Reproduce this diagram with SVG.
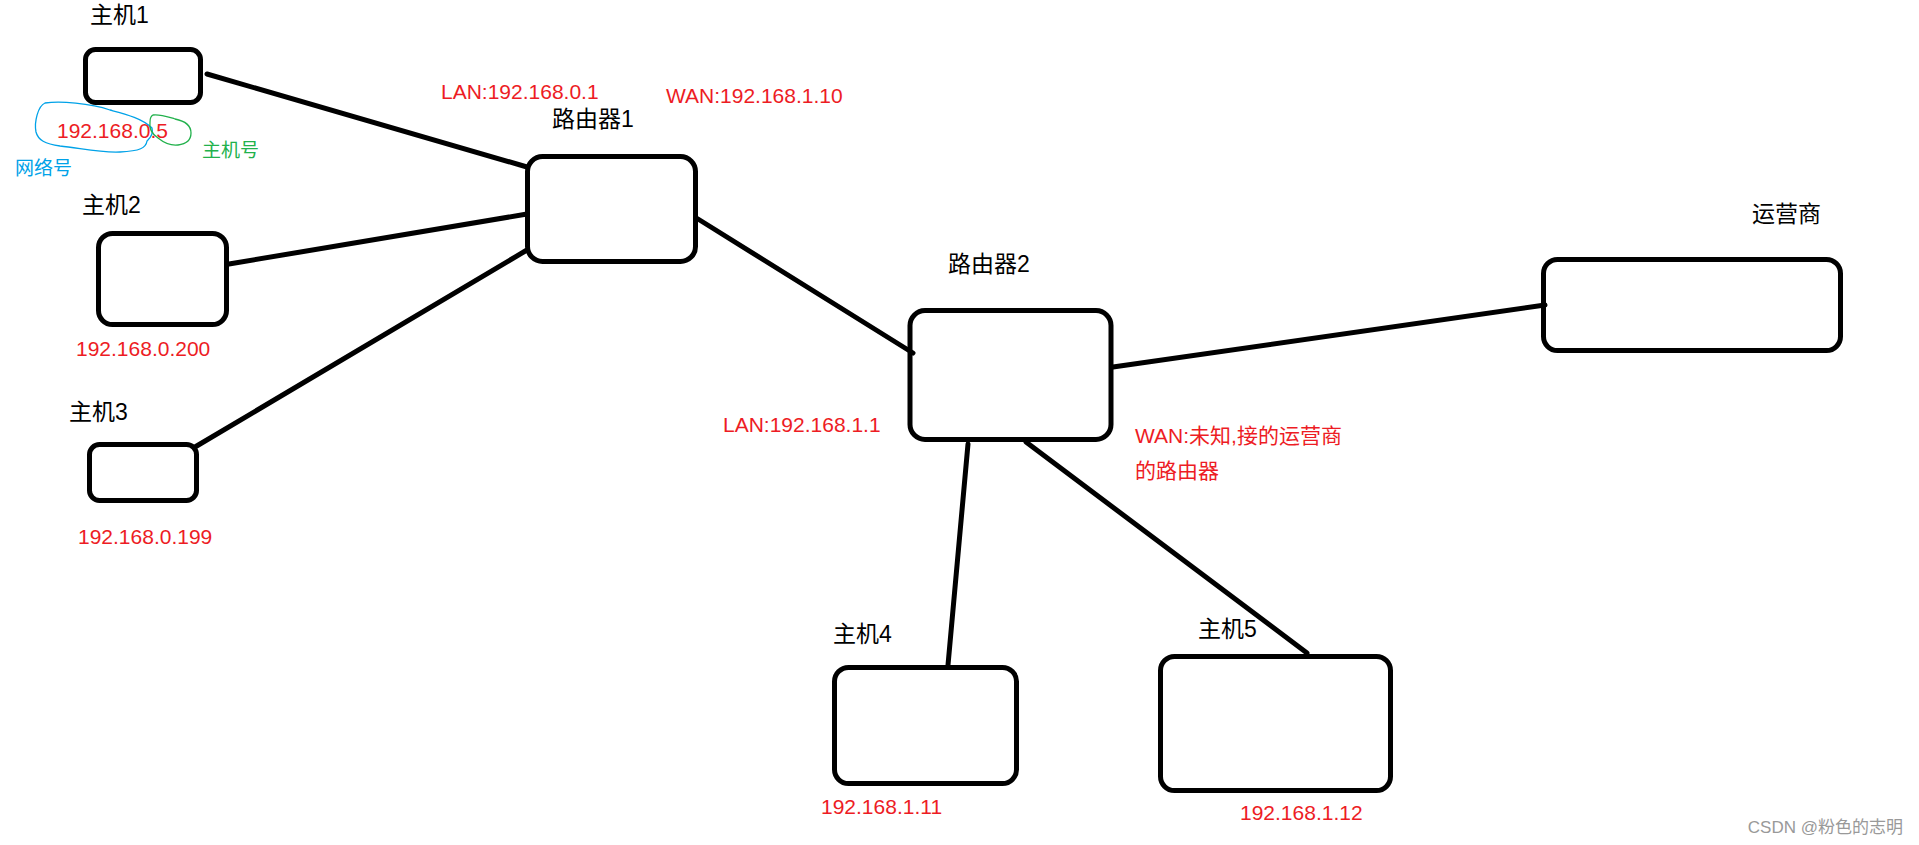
<svg xmlns="http://www.w3.org/2000/svg" width="1919" height="845" viewBox="0 0 1919 845">
<style>
.box{fill:none;stroke:#000;stroke-width:5}
.ln{stroke:#000;stroke-width:5;stroke-linecap:round;fill:none}
.lbl{font-family:"Liberation Sans","Noto Sans CJK SC",sans-serif;font-size:23px;fill:#000}
.ip{font-family:"Liberation Sans","Noto Sans CJK SC",sans-serif;font-size:21px;fill:#ed1c24}
.note{font-family:"Liberation Sans","Noto Sans CJK SC",sans-serif;font-size:19px}
</style>
<rect width="1919" height="845" fill="#fff"/>
<g id="connectors">
<line class="ln" x1="207" y1="74" x2="527" y2="167"/>
<line class="ln" x1="229" y1="264" x2="527" y2="214"/>
<line class="ln" x1="195" y1="447" x2="527" y2="250"/>
<line class="ln" x1="698" y1="219" x2="913" y2="353"/>
<line class="ln" x1="1113" y1="367" x2="1545" y2="305"/>
<line class="ln" x1="968" y1="444" x2="948" y2="665"/>
<line class="ln" x1="1026" y1="442" x2="1307" y2="653"/>
</g>
<g id="host1">
<rect class="box" x="85.5" y="49.5" width="115" height="53" rx="10"/>
<text class="lbl" x="90" y="23">主机1</text>
<text class="ip" x="57" y="138">192.168.0.5</text>
<path d="M45,103 C60,101 90,103 110,110 C125,114 142,118 152,128 C154,135 148,140 147,141 C146,148 140,151 120,152 C100,153 80,148 60,146 C45,144 38,140 36,132 C34,122 38,106 45,103 Z" fill="none" stroke="#00a2e8" stroke-width="1.3"/>
<path d="M153,115 C160,114 168,117 175,119 C185,121 191,125 191,133 C191,140 186,144 178,145 C170,146 163,142 158,138 C152,134 149,128 150,122 C150,118 151,116 153,115 Z" fill="none" stroke="#22b14c" stroke-width="1.3"/>
<text class="note" x="202" y="157" fill="#22b14c">主机号</text>
<text class="note" x="15" y="175" fill="#00a2e8">网络号</text>
</g>
<g id="host2">
<rect class="box" x="98.5" y="233.5" width="128" height="91" rx="14"/>
<text class="lbl" x="82" y="213">主机2</text>
<text class="ip" x="76" y="356">192.168.0.200</text>
</g>
<g id="host3">
<rect class="box" x="89.5" y="444.5" width="107" height="56" rx="10"/>
<text class="lbl" x="69" y="420">主机3</text>
<text class="ip" x="78" y="544">192.168.0.199</text>
</g>
<g id="router1">
<rect class="box" x="527.5" y="156.5" width="168" height="105" rx="15"/>
<text class="lbl" x="552" y="127">路由器1</text>
<text class="ip" x="441" y="99">LAN:192.168.0.1</text>
<text class="ip" x="666" y="103">WAN:192.168.1.10</text>
</g>
<g id="router2">
<rect class="box" x="910" y="310.5" width="201" height="129" rx="15"/>
<text class="lbl" x="948" y="272">路由器2</text>
<text class="ip" x="723" y="432">LAN:192.168.1.1</text>
<text class="ip" x="1135" y="443" font-size="20">WAN:未知,接的运营商</text>
<text class="ip" x="1135" y="478" font-size="20">的路由器</text>
</g>
<g id="isp">
<rect class="box" x="1543.5" y="259.5" width="297" height="91" rx="14"/>
<text class="lbl" x="1752" y="222">运营商</text>
</g>
<g id="host4">
<rect class="box" x="834.5" y="667.5" width="182" height="116" rx="14"/>
<text class="lbl" x="833" y="642">主机4</text>
<text class="ip" x="821" y="814">192.168.1.11</text>
</g>
<g id="host5">
<rect class="box" x="1160.5" y="656.5" width="230" height="134" rx="14"/>
<text class="lbl" x="1198" y="637">主机5</text>
<text class="ip" x="1240" y="820">192.168.1.12</text>
</g>
<text x="1903" y="833" text-anchor="end" font-family="Liberation Sans,'Noto Sans CJK SC',sans-serif" font-size="17" fill="#999">CSDN @粉色的志明</text>
</svg>
